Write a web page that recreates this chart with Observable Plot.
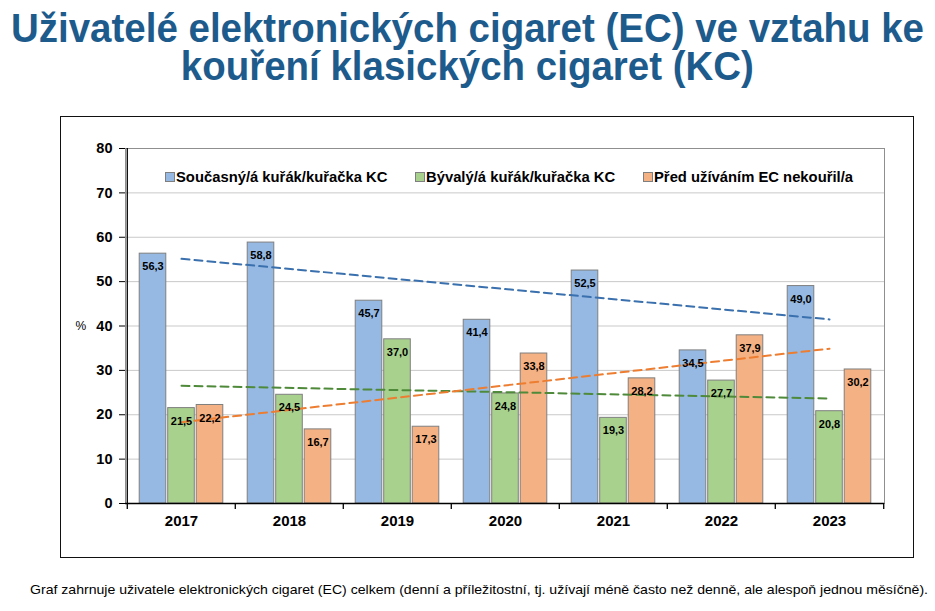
<!DOCTYPE html>
<html>
<head>
<meta charset="utf-8">
<script src="https://cdn.jsdelivr.net/npm/d3@7"></script>
<script src="https://cdn.jsdelivr.net/npm/@observablehq/plot@0.6"></script>
<style>
  html, body { margin: 0; padding: 0; background: #fff; }
  #page { position: relative; width: 935px; height: 611px; overflow: hidden; font-family: "Liberation Sans", Arial, sans-serif; }
  #title { position: absolute; left: 0; top: 9px; width: 935px; color: #1d5b8c; margin: 0;
    font-family: "Liberation Sans", Arial, sans-serif; font-weight: bold; font-size: 41px; line-height: 38px; }
  .tl { width: 935px; display: flex; justify-content: center; white-space: nowrap; }
  .tl span { display: inline-block; flex: none; transform-origin: 50% 50%; }
  #chart { position: absolute; left: 60px; top: 116px; }
  #chart svg { display: block; outline: 1px solid #111; outline-offset: -1px; }
  #legend { position: absolute; top: 168px; left: 0; width: 935px; height: 20px; font-weight: bold; font-size: 14.8px; color: #000; }
  .li { position: absolute; top: 0; white-space: nowrap; line-height: 18px; }
  .sw { display: inline-block; width: 8px; height: 8px; border: 1px solid #7f7f7f; margin-right: 1px; vertical-align: 0px; }
  #caption { position: absolute; left: 30px; width: 898px; top: 582px; font-size: 13px; line-height: 16px; color: #000; white-space: nowrap; }
  #caption span { display: inline-block; transform-origin: 0 50%; }
</style>
</head>
<body>
<div id="page">
  <div id="title"><div class="tl"><span>Uživatelé elektronických cigaret (EC) ve vztahu ke</span></div><div class="tl"><span>kouření klasických cigaret (KC)</span></div></div>
  <div id="chart"></div>
  <div id="legend"></div>
  <div id="caption"><span>Graf zahrnuje uživatele elektronických cigaret (EC) celkem (denní a příležitostní, tj. užívají méně často než denně, ale alespoň jednou měsíčně).</span></div>
</div>
<script>
// ---- data ----
const years = [2017, 2018, 2019, 2020, 2021, 2022, 2023];
const seriesNames = ["Současný/á kuřák/kuřačka KC", "Bývalý/á kuřák/kuřačka KC", "Před užíváním EC nekouřil/a"];
const current = [56.3, 58.8, 45.7, 41.4, 52.5, 34.5, 49.0];
const former  = [21.5, 24.5, 37.0, 24.8, 19.3, 27.7, 20.8];
const never   = [22.2, 16.7, 17.3, 33.8, 28.2, 37.9, 30.2];
const yTicks = [0, 10, 20, 30, 40, 50, 60, 70, 80];

// ---- styling ----
const barFills = ["#95b9e3", "#a9d18e", "#f4b183"];
const trendColors = ["#3a70ad", "#4f8a3a", "#ed7d31"];
const legendLeft = [165, 415, 643];

const W = 854, H = 442, mL = 65, mR = 30, mT = 32, mB = 55;
const bw = (W - mL - mR) / years.length;
const barW = 27, pitch = 28.5;
const offsets = [-pitch, 0, pitch];

const seriesValues = [current, former, never];
const tables = seriesValues.map((vals, s) => years.map((y, i) => ({year: y, value: vals[i], series: seriesNames[s]})));
const fmt = v => v.toFixed(1).replace(".", ",");
const font = "'Liberation Sans', Arial, sans-serif";

const marks = [
  Plot.gridY(yTicks.filter(t => t > 0), {stroke: "#c9c9c9", strokeOpacity: 1}),
  Plot.frame({stroke: "#8f8f8f"}),
];
tables.forEach((t, s) => {
  marks.push(Plot.barY(t, {x: "year", y: "value", fill: barFills[s], stroke: "#7f7f7f", strokeWidth: 1,
    insetLeft: (bw - barW) / 2, insetRight: (bw - barW) / 2, dx: offsets[s]}));
});
tables.forEach((t, s) => {
  marks.push(Plot.linearRegressionY(t, {x: "year", y: "value", stroke: trendColors[s], strokeWidth: 2,
    strokeDasharray: "8,5", ci: 0}));
});
tables.forEach((t, s) => {
  marks.push(Plot.text(t, {x: "year", y: "value", text: d => fmt(d.value), dx: offsets[s], dy: 13,
    fontWeight: "bold", fontSize: 11, fill: "#000"}));
});
marks.push(
  Plot.ruleY([0], {stroke: "#000", strokeWidth: 1.3}),
  Plot.ruleX([years[0]], {x: d => d, y1: 0, y2: 80, dx: -bw / 2, stroke: "#000", strokeWidth: 1.3}),
  Plot.ruleX(years, {x: d => d, y1: 0, y2: 0, insetBottom: -6, dx: -bw / 2, stroke: "#000", strokeWidth: 1.3}),
  Plot.ruleX([years[years.length - 1]], {x: d => d, y1: 0, y2: 0, insetBottom: -6, dx: bw / 2, stroke: "#000", strokeWidth: 1.3}),
  Plot.axisY({ticks: yTicks, tickSize: 6, tickPadding: 7, tickFormat: d => String(d), fontWeight: "bold", fontSize: 14.5, label: null, stroke: "#000"}),
  Plot.axisX({tickSize: 0, tickPadding: 12, tickFormat: d => String(d), fontWeight: "bold", fontSize: 15, label: null}),
  Plot.text(["%"], {frameAnchor: "left", dx: -50, text: d => d, fontSize: 12, fill: "#000"})
);

const chart = Plot.plot({
  width: W, height: H, marginLeft: mL, marginRight: mR, marginTop: mT, marginBottom: mB,
  style: {fontFamily: font, background: "#fff", color: "#000"},
  x: {type: "band", domain: years, padding: 0},
  y: {domain: [0, 80]},
  marks
});
document.getElementById("chart").appendChild(chart);

// legend
const legend = document.getElementById("legend");
seriesNames.forEach((n, i) => {
  const el = document.createElement("div");
  el.className = "li";
  el.style.left = legendLeft[i] + "px";
  el.innerHTML = `<span class="sw" style="background:${barFills[i]}"></span>${n}`;
  legend.appendChild(el);
});

// fit condensed title & caption widths
const tspans = document.querySelectorAll(".tl span");
const ts = 913 / tspans[0].getBoundingClientRect().width;
tspans.forEach(s => s.style.transform = `scaleX(${ts})`);
const cs = document.querySelector("#caption span");
cs.style.transform = `scaleX(${898 / cs.getBoundingClientRect().width})`;
</script>
</body>
</html>
